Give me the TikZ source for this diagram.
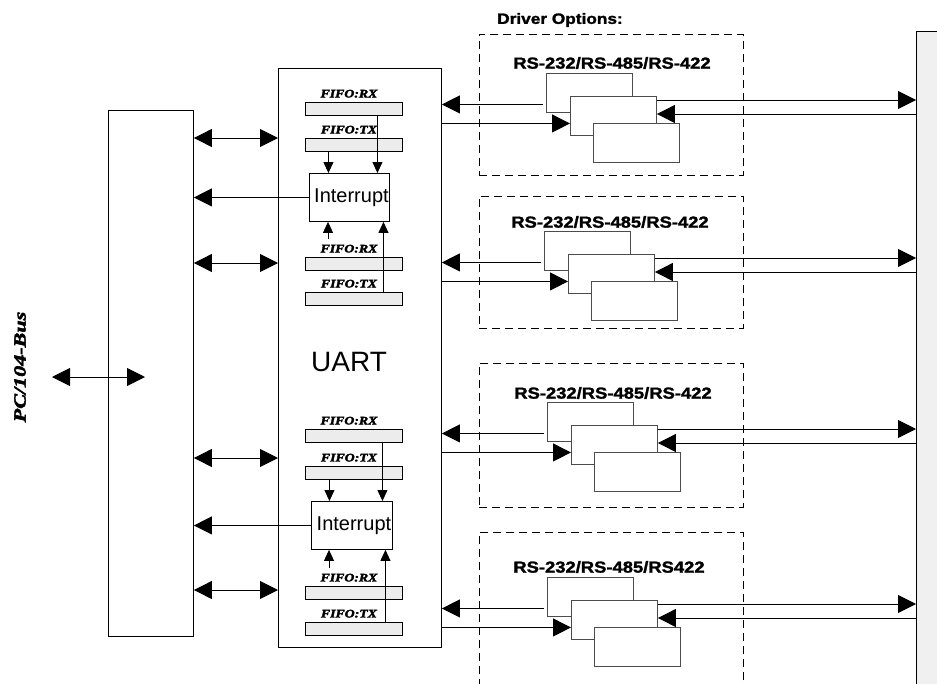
\documentclass[tikz,border=0pt]{standalone}
\usepackage{fontspec}
\setmainfont{Liberation Sans}
\newfontfamily\fifoserif[BoldItalicFeatures={FakeBold=2.5}]{Liberation Serif}
\newfontfamily\rsheavy[BoldFeatures={FakeBold=1.5}]{Liberation Sans}
\usetikzlibrary{arrows.meta, positioning, calc}
\newcommand{\wider}[2][1.2]{\scalebox{#1}[1]{#2}}

\begin{document}
\begin{tikzpicture}[
    x=1pt, y=-1pt, line width=0.9pt,
    bigarr/.style={-{Triangle[length=18pt,width=18pt]}},
    dblarr/.style={{Triangle[length=18pt,width=18pt]}-{Triangle[length=18pt,width=18pt]}},
    smarr/.style={-{Triangle[length=11pt,width=10pt]}},
    plainbox/.style={draw, fill=white, inner sep=0pt, anchor=north west},
    fifobar/.style={draw, fill=gray!15, minimum width=97pt, minimum height=13pt, inner sep=0pt, anchor=north west},
    intbox/.style={plainbox, minimum width=80pt, minimum height=48pt, font=\fontsize{20}{21}\selectfont},
    fifolbl/.style={inner sep=0pt, font=\fifoserif\bfseries\itshape\fontsize{11.5}{12}\selectfont},
    trx/.style={plainbox, draw=black!70, minimum width=86pt, minimum height=39pt},
    drvbox/.style={draw, dash pattern=on 8pt off 5pt, minimum width=264pt, inner sep=0pt, anchor=north west},
    rslbl/.style={inner sep=0pt, font=\rsheavy\bfseries\fontsize{16}{18}\selectfont}
]
\useasboundingbox (0,0) rectangle (937,683);

% Right bus bar
\node[draw, fill=gray!12, minimum width=30pt, minimum height=670pt, inner sep=0pt, anchor=north west] (rbar) at (916,31) {};

% PC/104 bus side
\node[plainbox, minimum width=85pt, minimum height=526pt] (bus) at (108,110) {};
\node[rotate=90, inner sep=0pt, font=\fifoserif\bfseries\itshape\fontsize{17}{18}\selectfont] (pclbl) at (20,367) {\wider[1.3]{PC/104-Bus}};
\coordinate (pcL) at (52,377);
\coordinate (pcR) at (145,377);
\draw[dblarr] (pcL) -- (pcR);

% UART
\node[plainbox, minimum width=163pt, minimum height=579pt] (uart) at (278,68) {};
\node[font=\fontsize{28}{30}\selectfont] (uartlbl) at (349,362) {UART};

% FIFO bars
\foreach \n/\y in {rx1/102, tx1/138, rx2/257, tx2/292, rx3/429, tx3/466, rx4/586, tx4/622}
    \node[fifobar] (\n) at (305,\y) {};

% FIFO labels
\foreach \n/\t in {rx1/RX, tx1/TX, rx2/RX, tx2/TX, rx3/RX, tx3/TX, rx4/RX, tx4/TX}
    \node[fifolbl, above=4pt of \n, xshift=-5pt] (l\n) {\wider{FIFO:\t}};

% Interrupt blocks
\node[intbox] (intA) at (309,173) {\hspace*{4pt}Interrupt};
\node[intbox, minimum width=81pt] (intB) at (311,501) {\hspace*{4pt}Interrupt};

% FIFO -> interrupt
\coordinate (a1) at ([xshift=-25.5pt]tx1.south);
\coordinate (a2) at ([xshift=23.5pt]rx1.south);
\coordinate (a3) at (328,239);
\coordinate (a4) at ([xshift=29.5pt]tx2.north);
\draw[smarr] (a1) -- (a1 |- intA.north);
\draw[smarr] (a2) -- (a2 |- intA.north);
\draw[smarr] (a3) -- (a3 |- intA.south);
\draw[smarr] (a4) -- (a4 |- intA.south);

\coordinate (a5) at ([xshift=-24.5pt]tx3.south);
\coordinate (a6) at ([xshift=28.5pt]rx3.south);
\coordinate (a7) at (329,568);
\coordinate (a8) at ([xshift=31.5pt]tx4.north);
\draw[smarr] (a5) -- (a5 |- intB.north);
\draw[smarr] (a6) -- (a6 |- intB.north);
\draw[smarr] (a7) -- (a7 |- intB.south);
\draw[smarr] (a8) -- (a8 |- intB.south);

% Bus <-> UART
\foreach \y in {138,263,458,590} {
    \coordinate (lv\y) at (0,\y);
    \draw[dblarr] (bus.east |- lv\y) -- (uart.west |- lv\y);
}
\draw[bigarr] (intA.west) -- (intA.west -| bus.east);
\draw[bigarr] (intB.west) -- (intB.west -| bus.east);

% Driver option boxes
\node[drvbox, minimum height=141pt] (drv1) at (479,34) {};
\node[drvbox, minimum height=132pt] (drv2) at (479,196) {};
\node[drvbox, minimum height=144pt] (drv3) at (479,363) {};
\node[drvbox, minimum height=170pt] (drv4) at (479,532) {};

\node[rslbl, font=\rsheavy\bfseries\fontsize{15}{16}\selectfont] (drvlbl) at (560,20) {\wider[1.15]{Driver Options:}};
\node[rslbl] (rs1) at (612,63) {\wider[1.15]{RS-232/RS-485/RS-422}};
\node[rslbl] (rs2) at (610,222) {\wider[1.15]{RS-232/RS-485/RS-422}};
\node[rslbl] (rs3) at (613,393) {\wider[1.15]{RS-232/RS-485/RS-422}};
\node[rslbl] (rs4) at (609,567) {\wider[1.15]{RS-232/RS-485/RS422}};

% Transceivers and their links
\foreach \k/\ax/\ay in {1/546/73, 2/544/231, 3/547/402, 4/547/577} {
    \node[trx] (A\k) at (\ax,\ay) {};
    \node[trx] (B\k) at ($(A\k.north west)+(24,23)$) {};
    \node[trx] (C\k) at ($(A\k.north west)+(47,50)$) {};
    \coordinate (al\k) at ([xshift=-3pt,yshift=-11.5pt]A\k.west);
    \coordinate (bi\k) at ([yshift=-7.5pt]B\k.west);
    \coordinate (bo\k) at ([yshift=-4pt]B\k.north east);
    \coordinate (bn\k) at ([yshift=-18pt]B\k.north east);
    \draw[bigarr] (al\k) -- (al\k -| uart.east);
    \draw[bigarr] (bi\k -| uart.east) -- (bi\k);
    \draw[bigarr] (bo\k) -- (bo\k -| rbar.west);
    \draw[bigarr] (bn\k -| rbar.west) -- (bn\k);
}

\end{tikzpicture}
\end{document}
